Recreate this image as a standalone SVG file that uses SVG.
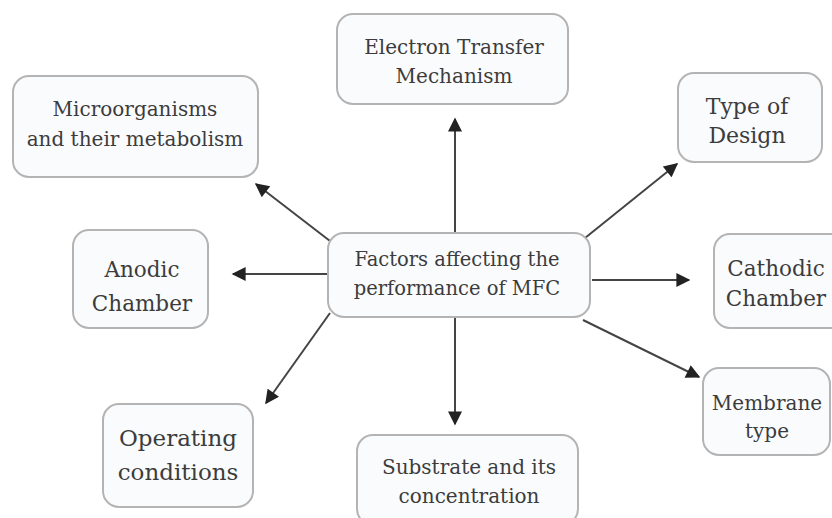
<svg xmlns="http://www.w3.org/2000/svg" width="832" height="518" viewBox="0 0 832 518">
<defs>
<marker id="ah" viewBox="0 0 10 10" refX="9" refY="5" markerWidth="7.5" markerHeight="7" markerUnits="strokeWidth" orient="auto">
<path d="M0,0 L10,5 L0,10 z" fill="#222"/>
</marker>
<style>
.box{fill:#fafbfd;stroke:#b4b4b4;stroke-width:2}
.t{font-family:"DejaVu Serif","Liberation Serif",serif;fill:#3c3c3c;text-anchor:middle}
.c{stroke:#444;stroke-width:2;fill:none;marker-end:url(#ah)}
</style>
</defs>
<rect width="832" height="518" fill="#ffffff"/>
<g id="connectors">
<line class="c" x1="330" y1="241" x2="256" y2="184"/>
<line class="c" x1="455" y1="233" x2="455" y2="119"/>
<line class="c" x1="585" y1="238" x2="677" y2="164"/>
<line class="c" x1="328" y1="274" x2="233" y2="274"/>
<line class="c" x1="592" y1="280" x2="689" y2="280"/>
<line class="c" x1="330" y1="313" x2="266" y2="403"/>
<line class="c" x1="455" y1="317" x2="455" y2="424"/>
<line class="c" x1="583" y1="320" x2="699" y2="377"/>
</g>
<g id="center">
<rect class="box" x="328" y="233" width="262" height="84" rx="16"/>
<text class="t" x="457" y="266" font-size="19.5">Factors affecting the</text>
<text class="t" x="457" y="295" font-size="19.5">performance of MFC</text>
</g>
<g id="microorganisms">
<rect class="box" x="13" y="76" width="245" height="101" rx="16"/>
<text class="t" x="135" y="116" font-size="20">Microorganisms</text>
<text class="t" x="135" y="146" font-size="20">and their metabolism</text>
</g>
<g id="electron">
<rect class="box" x="337" y="14" width="231" height="90" rx="16"/>
<text class="t" x="454" y="54" font-size="20">Electron Transfer</text>
<text class="t" x="454" y="83" font-size="20">Mechanism</text>
</g>
<g id="design">
<rect class="box" x="678" y="73" width="144" height="89" rx="16"/>
<text class="t" x="747" y="114" font-size="22">Type of</text>
<text class="t" x="747" y="143" font-size="22">Design</text>
</g>
<g id="anodic">
<rect class="box" x="73" y="230" width="135" height="98" rx="16"/>
<text class="t" x="142" y="277" font-size="21.5">Anodic</text>
<text class="t" x="142" y="311" font-size="21.5">Chamber</text>
</g>
<g id="cathodic">
<rect class="box" x="714" y="234" width="135" height="94" rx="16"/>
<text class="t" x="776" y="276" font-size="21.5">Cathodic</text>
<text class="t" x="776" y="306" font-size="21.5">Chamber</text>
</g>
<g id="operating">
<rect class="box" x="103" y="404" width="150" height="103" rx="16"/>
<text class="t" x="178" y="446" font-size="23">Operating</text>
<text class="t" x="178" y="480" font-size="23">conditions</text>
</g>
<g id="substrate">
<rect class="box" x="357" y="435" width="221" height="90" rx="16"/>
<text class="t" x="469" y="474" font-size="20">Substrate and its</text>
<text class="t" x="469" y="503" font-size="20">concentration</text>
</g>
<g id="membrane">
<rect class="box" x="703" y="368" width="127" height="87" rx="16"/>
<text class="t" x="767" y="410" font-size="20">Membrane</text>
<text class="t" x="767" y="438" font-size="20">type</text>
</g>
</svg>
